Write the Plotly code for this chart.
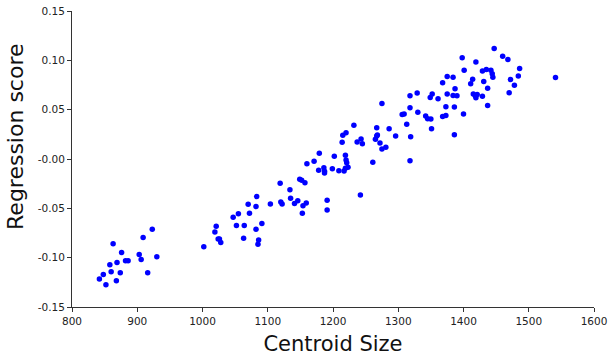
import plotly.graph_objects as go

centroid_size = [
    842, 848, 852, 858, 860, 863, 868, 869, 874, 876, 882, 886, 903, 906, 909, 916, 923, 930,
    1002, 1019, 1021, 1024, 1026, 1028, 1047, 1055, 1052, 1064, 1063, 1070, 1072, 1082, 1082,
    1091, 1086, 1085, 1104, 1083,
    1119, 1120, 1122, 1134, 1135, 1141, 1146, 1149, 1152, 1157, 1154, 1159, 1153, 1160, 1171,
    1179, 1178, 1186, 1187, 1187, 1191, 1191, 1199, 1202, 1209, 1217, 1219, 1223, 1219, 1220,
    1221, 1215, 1220, 1214, 1232, 1237, 1242,
    1243, 1245, 1267, 1286, 1265, 1267, 1268, 1272, 1281, 1275, 1296, 1319, 1261, 1318, 1275,
    1313, 1306, 1309, 1318, 1330, 1329, 1318, 1342, 1345, 1350, 1351, 1352, 1349, 1361, 1368,
    1373, 1373, 1386, 1400, 1386, 1375, 1384, 1390, 1387, 1368, 1375, 1384, 1398, 1401, 1419,
    1414, 1411, 1415, 1418, 1421, 1419, 1429, 1429, 1435, 1442, 1444, 1445, 1431, 1437, 1437,
    1447, 1460, 1468, 1486, 1484, 1472, 1478, 1470, 1541,
]
regression_score = [
    -0.1217, -0.1170, -0.1274, -0.1072, -0.1143, -0.0860, -0.1234, -0.1049, -0.1153, -0.0948,
    -0.1032, -0.1032, -0.0968, -0.1019, -0.0796, -0.1153, -0.0711, -0.0991,
    -0.0890, -0.0741, -0.0681, -0.0812, -0.0812, -0.0847, -0.0590, -0.0556, -0.0675, -0.0675,
    -0.0802, -0.0458, -0.0549, -0.0482, -0.0711, -0.0654, -0.0822, -0.0863, -0.0455, -0.0381,
    -0.0246, -0.0435, -0.0455, -0.0311, -0.0397, -0.0452, -0.0422, -0.0205, -0.0215, -0.0240,
    -0.0475, -0.0445, -0.0549, -0.0048, -0.0023, 0.0058, -0.0114, -0.0088, -0.0124, -0.0142,
    -0.0418, -0.0516, -0.0098, 0.0027, -0.0118, -0.0121, -0.0094, -0.0084, 0.0037, -0.0010,
    -0.0037, 0.0240, 0.0266, 0.0169, 0.0341, 0.0172, -0.0364,
    0.0202, 0.0155, 0.0317, 0.0306, 0.0199, 0.0233, 0.0243, 0.0162, 0.0118, 0.0101, 0.0233,
    0.0226, -0.0033, -0.0017, 0.0563, 0.0351, 0.0452, 0.0455, 0.0519, 0.0475, 0.0668, 0.0640,
    0.0435, 0.0408, 0.0405, 0.0306, 0.0660, 0.0624, 0.0610, 0.0432, 0.0442, 0.0529, 0.0526,
    0.0455, 0.0246, 0.0660, 0.0644, 0.0640, 0.0711, 0.0772, 0.0836, 0.0829, 0.1025, 0.0900,
    0.0984, 0.0809, 0.0762, 0.0660, 0.0640, 0.0654, 0.0620, 0.0637, 0.0893, 0.0907, 0.0900,
    0.0863, 0.0829, 0.0786, 0.0718, 0.0543, 0.1120, 0.1042, 0.1008, 0.0917, 0.0842, 0.0806,
    0.0748, 0.0671, 0.0826,
]

x_ticks = [800, 900, 1000, 1100, 1200, 1300, 1400, 1500, 1600]
y_ticks = [-0.15, -0.10, -0.05, 0.0, 0.05, 0.10, 0.15]
y_tick_labels = ["-0.15", "-0.10", "-0.05", "-0.00", "0.05", "0.10", "0.15"]

FONT = "DejaVu Sans, Verdana, sans-serif"

fig = go.Figure()
fig.add_trace(go.Scatter(
    x=centroid_size, y=regression_score, mode="markers",
    marker=dict(color="#0000FF", size=5.5, line=dict(width=0)),
    showlegend=False, cliponaxis=False,
))

axis_common = dict(
    showgrid=False, zeroline=False, showline=True, linecolor="#333333", linewidth=1,
    ticks="outside", ticklen=4, tickcolor="#333333", tickwidth=1,
    tickfont=dict(family=FONT, size=10.5, color="#222222"), mirror=False,
    automargin=False,
)

fig.update_xaxes(
    range=[800, 1600], tickvals=x_ticks, ticktext=[str(v) for v in x_ticks],
    title=dict(text="Centroid Size", font=dict(family=FONT, size=21, color="#111111"), standoff=10),
    **axis_common,
)
fig.update_yaxes(
    range=[-0.15, 0.15], tickvals=y_ticks, ticktext=y_tick_labels,
    **axis_common,
)

fig.add_annotation(
    text="Regression score", xref="paper", yref="paper",
    x=-0.107, y=0.575, xanchor="center", yanchor="middle",
    textangle=-90, showarrow=False,
    font=dict(family=FONT, size=22, color="#111111"),
)

fig.update_layout(
    width=608, height=361,
    margin=dict(l=72, r=14, t=11, b=54),
    paper_bgcolor="white", plot_bgcolor="white",
)

fig.write_html("out.html")
